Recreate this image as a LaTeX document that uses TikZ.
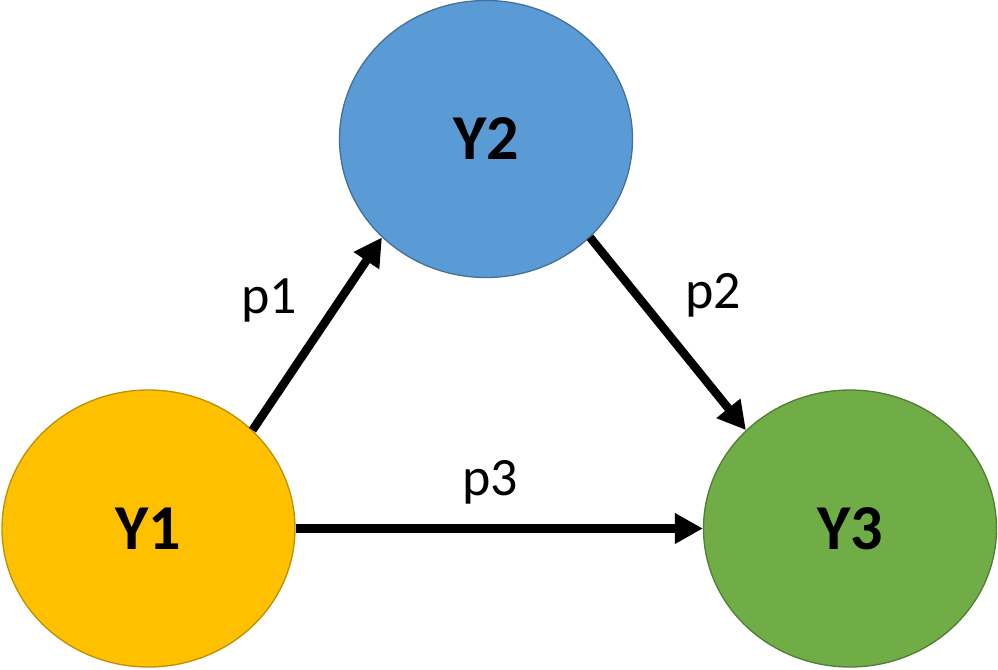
\documentclass[tikz,border=0pt]{standalone}
\usepackage{fontspec}
\setmainfont{Carlito}
\usetikzlibrary{shapes.geometric,arrows.meta}
\definecolor{yone}{HTML}{FFC000}
\definecolor{yoneline}{HTML}{BF9000}
\definecolor{ytwo}{HTML}{5B9BD5}
\definecolor{ytwoline}{HTML}{41719C}
\definecolor{ythree}{HTML}{70AD47}
\definecolor{ythreeline}{HTML}{507E32}
\tikzset{
  var/.style={ellipse,draw,line width=1.3pt,minimum width=293pt,minimum height=277pt,inner sep=0pt,font=\fontsize{64}{64}\selectfont\bfseries},
  path/.style={line width=8.5pt,-{Triangle[length=28pt,width=29pt]}},
  plabel/.style={font=\fontsize{54}{54}\selectfont}
}
\begin{document}
\begin{tikzpicture}[x=1pt,y=-1pt]
%\draw [help lines,black!20!white] (0,0) grid[step=50] (998,669);
\useasboundingbox (0,0) rectangle (998,669);

\node[var,fill=yone,draw=yoneline] (y1) at (148.5,528.5) {Y1};
\node[var,fill=ytwo,draw=ytwoline] (y2) at (486,139) {Y2};
\node[var,fill=ythree,draw=ythreeline] (y3) at (850,528.5) {Y3};

\draw[path] (y1.north east) -- (y2.south west);
\draw[path] (y2.south east) -- (y3.north west);
\draw[path] (y1.east) -- (y3.west);

\node[plabel] (p1) at (269,300) {p1};
\node[plabel] (p2) at (713,295) {p2};
\node[plabel] (p3) at (490,482) {p3};

\end{tikzpicture}
\end{document}
